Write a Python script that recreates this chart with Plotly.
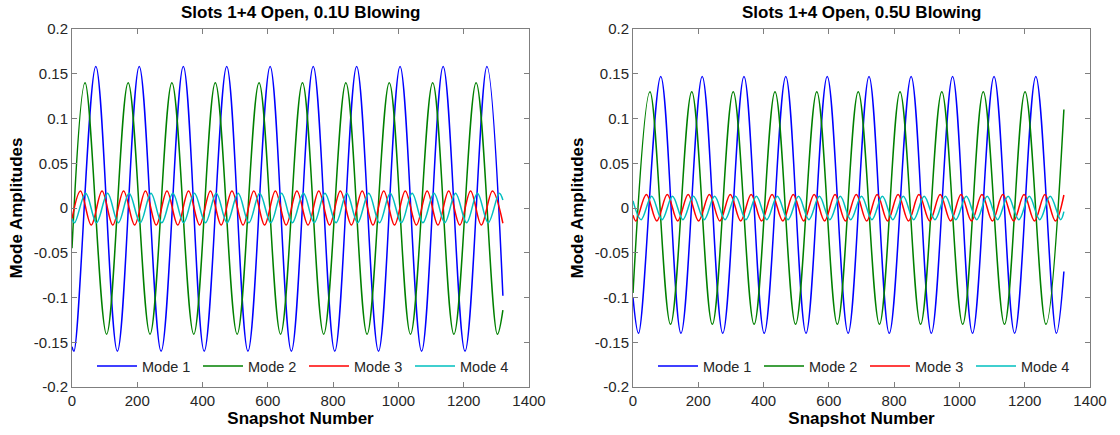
import plotly.graph_objects as go

# ---------------- data (extrema + endpoints) ----------------
# Left panel: Slots 1+4 Open, 0.1U Blowing
L_m1_x = [0, 6, 73, 139, 206, 273, 341, 405, 474, 539, 607, 672, 739, 805, 872, 939, 1005, 1071, 1137, 1204, 1271, 1320]
L_m1_y = [-0.155, -0.160, 0.158, -0.160, 0.158, -0.160, 0.158, -0.160, 0.158, -0.160, 0.158, -0.160,
          0.158, -0.160, 0.158, -0.160, 0.158, -0.160, 0.158, -0.160, 0.158, -0.098]
L_m2_x = [0, 40, 106, 172, 239, 306, 373, 439, 506, 573, 639, 706, 771, 839, 904, 972, 1037, 1105, 1170, 1238, 1303, 1320]
L_m2_y = [-0.045, 0.140, -0.141, 0.140, -0.141, 0.140, -0.141, 0.140, -0.141, 0.140, -0.141, 0.140,
          -0.141, 0.140, -0.141, 0.140, -0.141, 0.140, -0.141, 0.140, -0.141, -0.114]
L_m3_x = [0, 26, 59, 92, 125, 158, 192, 225, 258, 291, 324, 357, 391, 424, 457, 490, 524, 557, 590, 623,
          656, 689, 723, 756, 789, 822, 856, 889, 922, 955, 988, 1021, 1055, 1088, 1121, 1154, 1188, 1221,
          1254, 1288, 1320]
L_m3_y = [-0.012, 0.019, -0.019, 0.019, -0.019, 0.019, -0.019, 0.019, -0.019, 0.019, -0.019, 0.019,
          -0.019, 0.019, -0.019, 0.019, -0.019, 0.019, -0.019, 0.019, -0.019, 0.019, -0.019, 0.019,
          -0.019, 0.019, -0.019, 0.019, -0.019, 0.019, -0.019, 0.019, -0.019, 0.019, -0.019, 0.019,
          -0.019, 0.019, -0.019, 0.019, -0.017]
L_m4_x = [0, 8, 42, 75, 109, 142, 175, 209, 242, 275, 309, 342, 375, 409, 442, 475, 509, 542, 575, 609,
          642, 675, 709, 742, 775, 809, 842, 875, 909, 942, 975, 1009, 1042, 1075, 1109, 1142, 1175, 1209,
          1242, 1275, 1309, 1320]
L_m4_y = [-0.012, -0.0165, 0.0165, -0.0165, 0.0165, -0.0165, 0.0165, -0.0165, 0.0165, -0.0165, 0.0165,
          -0.0165, 0.0165, -0.0165, 0.0165, -0.0165, 0.0165, -0.0165, 0.0165, -0.0165, 0.0165, -0.0165,
          0.0165, -0.0165, 0.0165, -0.0165, 0.0165, -0.0165, 0.0165, -0.0165, 0.0165, -0.0165, 0.0165,
          -0.0165, 0.0165, -0.0165, 0.0165, -0.0165, 0.0165, -0.0165, 0.0165, 0.009]

# Right panel: Slots 1+4 Open, 0.5U Blowing
R_m1_x = [0, 17, 85, 147, 212, 275, 340, 402, 468, 530, 595, 659, 723, 785, 852, 914, 979, 1040, 1106, 1169, 1234, 1297, 1320]
R_m1_y = [-0.100, -0.140, 0.147, -0.140, 0.147, -0.140, 0.147, -0.140, 0.147, -0.140, 0.147, -0.140,
          0.147, -0.140, 0.147, -0.140, 0.147, -0.140, 0.147, -0.140, 0.147, -0.140, -0.071]
R_m2_x = [0, 52, 115, 180, 243, 307, 371, 435, 498, 563, 626, 690, 755, 818, 881, 946, 1010, 1073, 1138, 1201, 1265, 1320]
R_m2_y = [-0.095, 0.130, -0.130, 0.130, -0.130, 0.130, -0.130, 0.130, -0.130, 0.130, -0.130, 0.130,
          -0.130, 0.130, -0.130, 0.130, -0.130, 0.130, -0.130, 0.130, -0.130, 0.110]
R_m3_x = [0, 9, 41, 73, 105, 137, 169, 201, 234, 266, 298, 330, 362, 394, 426, 459, 491, 523, 555, 587,
          619, 651, 684, 716, 748, 780, 812, 844, 876, 909, 941, 973, 1005, 1037, 1069, 1101, 1133, 1166,
          1198, 1230, 1262, 1294, 1320]
R_m3_y = [-0.008, -0.0145, 0.015, -0.0145, 0.015, -0.0145, 0.015, -0.0145, 0.015, -0.0145, 0.015,
          -0.0145, 0.015, -0.0145, 0.015, -0.0145, 0.015, -0.0145, 0.015, -0.0145, 0.015, -0.0145,
          0.015, -0.0145, 0.015, -0.0145, 0.015, -0.0145, 0.015, -0.0145, 0.015, -0.0145, 0.015,
          -0.0145, 0.015, -0.0145, 0.015, -0.0145, 0.015, -0.0145, 0.015, -0.0145, 0.0145]
R_m4_x = [0, 25, 57, 89, 121, 153, 185, 218, 250, 282, 314, 346, 378, 410, 442, 475, 507, 539, 571, 603,
          635, 667, 700, 732, 764, 796, 828, 860, 892, 925, 957, 989, 1021, 1053, 1085, 1117, 1149, 1182,
          1214, 1246, 1278, 1310, 1320]
R_m4_y = [0.008, -0.013, 0.013, -0.013, 0.013, -0.013, 0.013, -0.013, 0.013, -0.013, 0.013, -0.013,
          0.013, -0.013, 0.013, -0.013, 0.013, -0.013, 0.013, -0.013, 0.013, -0.013, 0.013, -0.013,
          0.013, -0.013, 0.013, -0.013, 0.013, -0.013, 0.013, -0.013, 0.013, -0.013, 0.013, -0.013,
          0.013, -0.013, 0.013, -0.013, 0.013, -0.013, -0.004]

mode_names = ["Mode 1", "Mode 2", "Mode 3", "Mode 4"]
mode_colors = ["#0000FF", "#008000", "#FF0000", "#00BFBF"]
titles = ["Slots 1+4 Open, 0.1U Blowing", "Slots 1+4 Open, 0.5U Blowing"]
x_ticks = [0, 200, 400, 600, 800, 1000, 1200, 1400]
y_ticks = [-0.2, -0.15, -0.1, -0.05, 0, 0.05, 0.1, 0.15, 0.2]
y_ticktext = ["-0.2", "-0.15", "-0.1", "-0.05", "0", "0.05", "0.1", "0.15", "0.2"]

panels = [
    [(L_m1_x, L_m1_y), (L_m2_x, L_m2_y), (L_m3_x, L_m3_y), (L_m4_x, L_m4_y)],
    [(R_m1_x, R_m1_y), (R_m2_x, R_m2_y), (R_m3_x, R_m3_y), (R_m4_x, R_m4_y)],
]

# ---------------- figure ----------------
W, H = 1120, 435
fig = go.Figure()

FONT = "Liberation Sans, Arial, sans-serif"
xdoms = [[72 / W, 529 / W], [633 / W, 1090 / W]]
ydom = [1 - 387 / H, 1 - 29 / H]
legend_keys = ["legend", "legend2"]
legend_x = [92 / W, 653 / W]

for p, series in enumerate(panels):
    xa = "x" if p == 0 else "x2"
    ya = "y" if p == 0 else "y2"
    for k, (xs, ys) in enumerate(series):
        fig.add_trace(go.Scatter(
            x=xs, y=ys, mode="lines", name=mode_names[k],
            line=dict(color=mode_colors[k], width=1.5, shape="spline", smoothing=1.0),
            xaxis=xa, yaxis=ya, legend=legend_keys[p], hoverinfo="skip",
        ))

axis_common = dict(
    showline=True, linecolor="#7f7f7f", linewidth=1, mirror="ticks",
    ticks="inside", ticklen=5, tickcolor="#7f7f7f", tickwidth=1,
    showgrid=False, zeroline=False, automargin=False,
    tickfont=dict(family=FONT, size=15, color="#262626"),
)

for p in range(2):
    sfx = "" if p == 0 else "2"
    fig.layout["xaxis" + sfx] = dict(
        axis_common, domain=xdoms[p], range=[0, 1400], tickvals=x_ticks,
        anchor="y" + sfx,
        title=dict(text="<b>Snapshot Number</b>", font=dict(family=FONT, size=17, color="#000000"), standoff=1),
    )
    fig.layout["yaxis" + sfx] = dict(
        axis_common, domain=ydom, range=[-0.2, 0.2], tickvals=y_ticks, ticktext=y_ticktext,
        anchor="x" + sfx,
        title=dict(text="<b>Mode Amplitudes</b>", font=dict(family=FONT, size=17, color="#000000"), standoff=6),
    )
    fig.layout[legend_keys[p]] = dict(
        orientation="h", x=legend_x[p], y=1 - 366 / H, xanchor="left", yanchor="middle",
        bgcolor="rgba(255,255,255,0)", borderwidth=0,
        font=dict(family=FONT, size=14.5, color="#262626"),
        itemwidth=40, entrywidth=51, entrywidthmode="pixels", tracegroupgap=0,
    )
    fig.add_annotation(
        text="<b>" + titles[p] + "</b>", xref="paper", yref="paper",
        x=(xdoms[p][0] + xdoms[p][1]) / 2, y=1 - 12 / H, xanchor="center", yanchor="middle",
        showarrow=False, font=dict(family=FONT, size=17, color="#000000"),
    )

fig.update_layout(
    width=W, height=H, margin=dict(l=0, r=0, t=0, b=0, autoexpand=False),
    paper_bgcolor="white", plot_bgcolor="white", showlegend=True,
)

fig.write_html("out.html")
